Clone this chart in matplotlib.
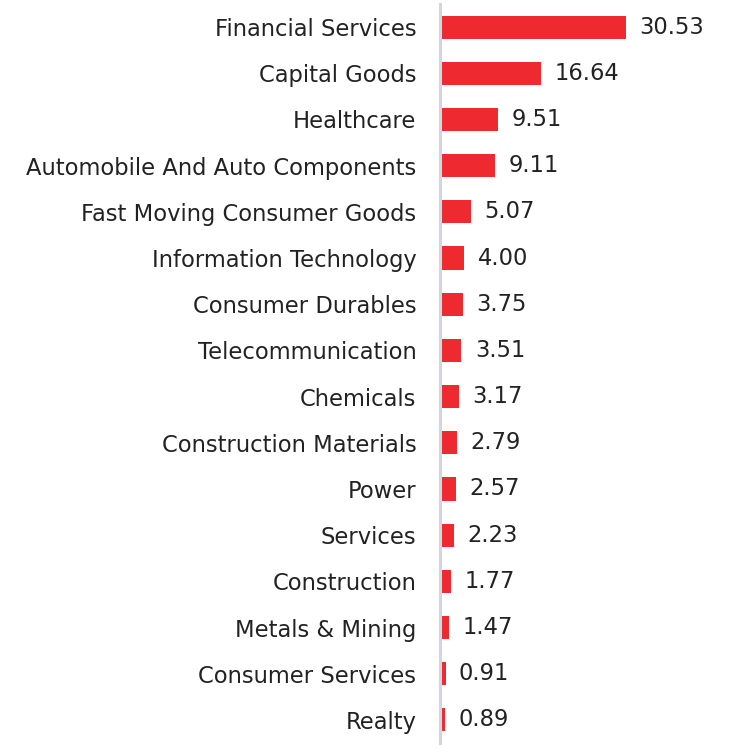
import matplotlib.pyplot as plt

# sector weights (%)
sectors = [
    "Financial Services", "Capital Goods", "Healthcare",
    "Automobile And Auto Components", "Fast Moving Consumer Goods",
    "Information Technology", "Consumer Durables", "Telecommunication",
    "Chemicals", "Construction Materials", "Power", "Services",
    "Construction", "Metals & Mining", "Consumer Services", "Realty",
]
weights = [30.53, 16.64, 9.51, 9.11, 5.07, 4.00, 3.75, 3.51,
           3.17, 2.79, 2.57, 2.23, 1.77, 1.47, 0.91, 0.89]

plt.rcParams['font.family'] = ['DejaVu Sans']

fig = plt.figure(figsize=(7.36, 7.55), dpi=100)
ax = fig.add_axes([440 / 736, 12 / 755, 296 / 736, 739 / 755])

ypos = list(range(len(sectors)))
ax.barh(ypos, weights, height=0.5, color="#ee2a30")
for y, w in zip(ypos, weights):
    ax.text(w + 2.2, y, f"{w:.2f}", va="center", ha="left",
            fontsize=16.3, color="#222222")

ax.set_yticks(ypos)
ax.set_yticklabels(sectors, fontsize=16.3, color="#222222")
ax.set_ylim(len(sectors) - 0.5, -0.5)
ax.set_xlim(0, 48.6)
ax.set_xticks([])
ax.tick_params(axis="y", length=0, pad=17)

for s in ["top", "right", "bottom"]:
    ax.spines[s].set_visible(False)
ax.spines["left"].set_color("#d3d6de")
ax.spines["left"].set_linewidth(2.2)

fig.savefig("out.png", dpi=100)
